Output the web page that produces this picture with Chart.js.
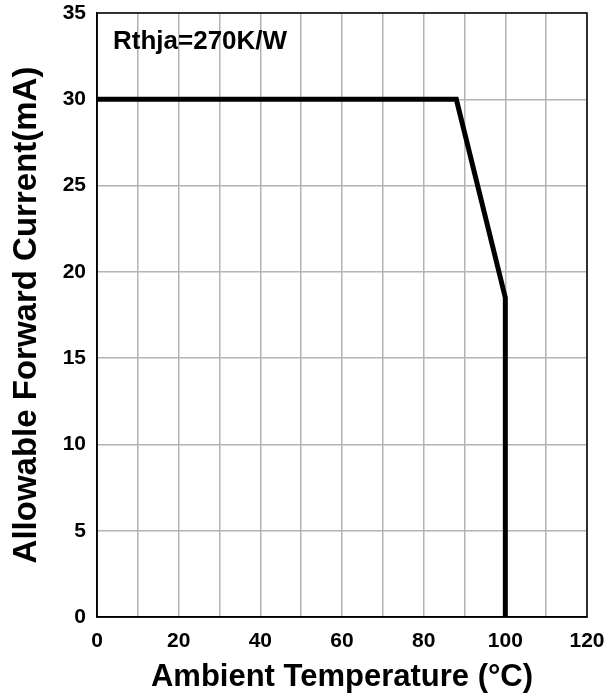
<!DOCTYPE html>
<html>
<head>
<meta charset="utf-8">
<script src="https://cdn.jsdelivr.net/npm/chart.js@4"></script>
<style>
  html, body { margin: 0; padding: 0; background: #fff; }
  #wrap { width: 615px; height: 696px; }
</style>
</head>
<body>
<div id="wrap"><canvas id="derating"></canvas></div>
<script>
// derating curve: ambient temperature (°C) vs allowable forward current (mA)
const tempC = [0, 88, 100, 100];
const currentmA = [30, 30, 18.5, 0];
const xTickLabels = [0, 20, 40, 60, 80, 100, 120];
const noteText = 'Rthja=270K/W';

const FONT = '"Liberation Sans", Arial, sans-serif';

// frame around the plot + thermal resistance note
const framePlugin = {
  id: 'frame',
  afterDraw(chart) {
    const { ctx, chartArea: a } = chart;
    ctx.save();
    ctx.strokeStyle = '#000';
    ctx.lineWidth = 1.5;
    ctx.strokeRect(a.left, a.top, a.right - a.left, a.bottom - a.top);
    ctx.fillStyle = '#000';
    ctx.font = 'bold 26px ' + FONT;
    ctx.textBaseline = 'middle';
    ctx.fillText(noteText, a.left + 16, a.top + 29);
    ctx.restore();
  }
};

let derating = new Chart(document.getElementById('derating'), {
  type: 'scatter',
  data: {
    datasets: [{
      data: tempC.map((t, i) => ({ x: t, y: currentmA[i] })),
      showLine: true,
      borderColor: '#000',
      borderWidth: 5,
      pointRadius: 0,
      tension: 0,
      borderJoinStyle: 'miter'
    }]
  },
  options: {
    responsive: true,
    maintainAspectRatio: false,
    animation: false,
    layout: { padding: { left: 0, right: 28, top: 13, bottom: 0 } },
    plugins: {
      legend: { display: false },
      tooltip: { enabled: false }
    },
    scales: {
      x: {
        type: 'linear',
        min: 0,
        max: 120,
        grid: { color: '#b4b4b4', lineWidth: 1.5, drawTicks: false },
        border: { color: '#000', width: 1.5 },
        ticks: {
          stepSize: 10,
          maxRotation: 0,
          autoSkip: false,
          padding: 12,
          color: '#000',
          font: { family: FONT, size: 21, weight: 'bold' },
          callback: v => xTickLabels.includes(v) ? v : ''
        },
        title: {
          display: true,
          text: 'Ambient Temperature (°C)',
          color: '#000',
          font: { family: FONT, size: 31, weight: 'bold' },
          padding: { top: 0, bottom: 0 }
        },
        afterFit(scale) {
          scale.height = 79;
          scale.paddingLeft = 0;
          scale.paddingRight = 0;
        }
      },
      y: {
        min: 0,
        max: 35,
        grid: { color: '#b4b4b4', lineWidth: 1.5, drawTicks: false },
        border: { color: '#000', width: 1.5 },
        ticks: {
          stepSize: 5,
          padding: 11,
          color: '#000',
          font: { family: FONT, size: 21, weight: 'bold' }
        },
        title: {
          display: true,
          text: 'Allowable Forward Current(mA)',
          color: '#000',
          font: { family: FONT, size: 33, weight: 'bold' },
          padding: { top: 7, bottom: 0 }
        },
        afterFit(scale) {
          scale.width = 97;
          scale.paddingTop = 0;
          scale.paddingBottom = 0;
        }
      }
    }
  },
  plugins: [framePlugin]
});
</script>
</body>
</html>
